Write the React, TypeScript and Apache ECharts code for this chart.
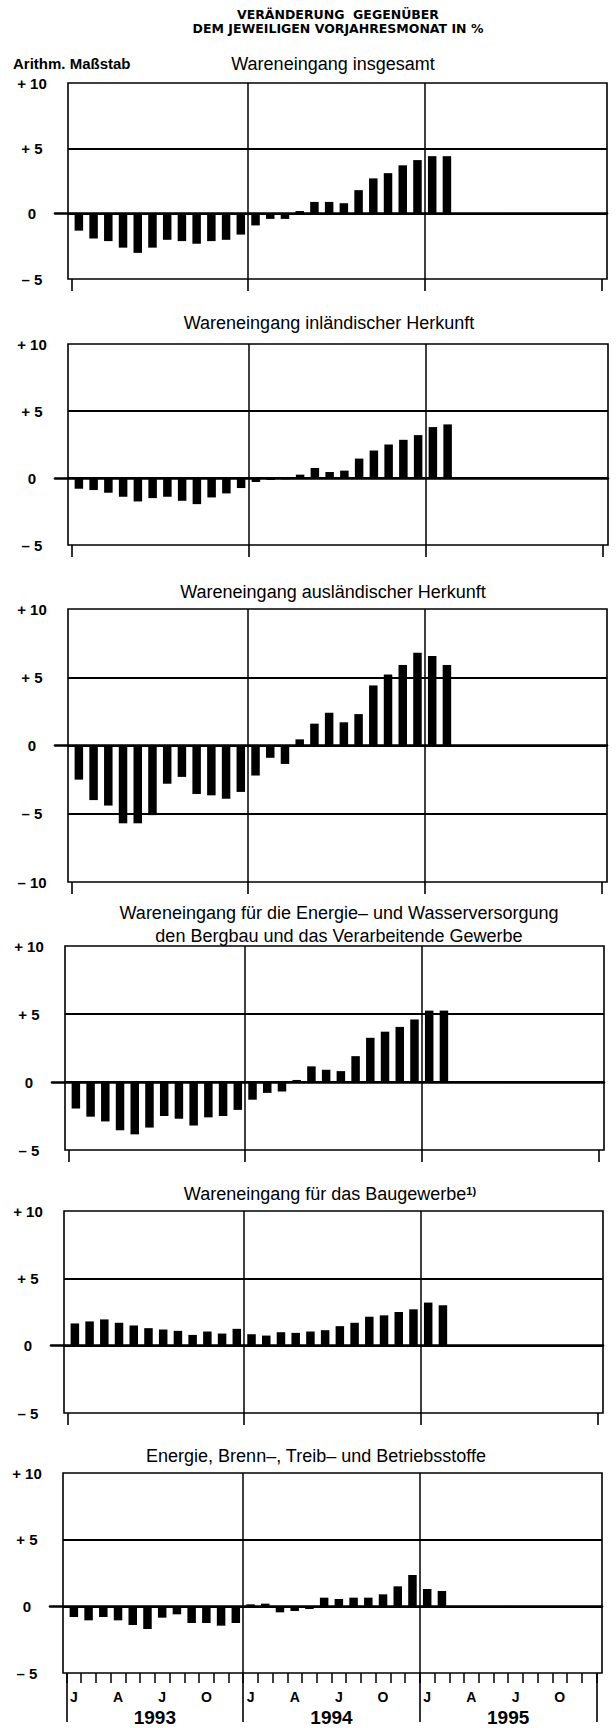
import { useEffect, useRef } from 'react';
import * as echarts from 'echarts';

// ---- data ----
const months = ['J', 'F', 'M', 'A', 'M', 'J', 'J', 'A', 'S', 'O', 'N', 'D',
  'J', 'F', 'M', 'A', 'M', 'J', 'J', 'A', 'S', 'O', 'N', 'D',
  'J', 'F', 'M', 'A', 'M', 'J', 'J', 'A', 'S', 'O', 'N', 'D'];
const years = ['1993', '1994', '1995'];

// Jan 1993 .. Feb 1995, change vs. same month of previous year, in %
const insgesamt = [-1.3, -1.9, -2.1, -2.6, -3.0, -2.6, -2.0, -2.1, -2.3, -2.1, -2.0, -1.6,
  -0.9, -0.4, -0.4, 0.2, 0.9, 0.9, 0.8, 1.8, 2.7, 3.1, 3.7, 4.1, 4.4, 4.4];
const inlaendisch = [-0.8, -0.9, -1.1, -1.4, -1.75, -1.5, -1.4, -1.7, -1.95, -1.45, -1.15, -0.75,
  -0.3, -0.15, -0.1, 0.25, 0.75, 0.45, 0.55, 1.45, 2.05, 2.5, 2.85, 3.2, 3.8, 4.0];
const auslaendisch = [-2.5, -4.0, -4.4, -5.7, -5.7, -5.1, -2.8, -2.3, -3.55, -3.65, -3.9, -3.4,
  -2.2, -0.9, -1.35, 0.45, 1.6, 2.4, 1.7, 2.3, 4.4, 5.2, 5.9, 6.8, 6.55, 5.9];
const energieWasser = [-1.95, -2.55, -2.9, -3.55, -3.85, -3.35, -2.5, -2.7, -3.2, -2.6, -2.5, -2.05,
  -1.3, -0.8, -0.7, 0.15, 1.15, 0.9, 0.8, 1.9, 3.25, 3.7, 4.05, 4.6, 5.25, 5.25];
const baugewerbe = [1.65, 1.8, 1.95, 1.7, 1.5, 1.3, 1.2, 1.1, 0.8, 1.05, 0.9, 1.25,
  0.85, 0.75, 1.0, 0.95, 1.05, 1.15, 1.45, 1.7, 2.15, 2.25, 2.5, 2.7, 3.2, 3.0];
const betriebsstoffe = [-0.8, -1.05, -0.8, -1.05, -1.4, -1.7, -0.85, -0.6, -1.25, -1.25, -1.45, -1.25,
  0.15, 0.2, -0.45, -0.35, -0.2, 0.65, 0.55, 0.65, 0.65, 0.9, 1.5, 2.35, 1.3, 1.15];

const panelSeries = [insgesamt, inlaendisch, auslaendisch, energieWasser, baugewerbe, betriebsstoffe];
const panelTitles = [
  ['Wareneingang insgesamt'],
  ['Wareneingang inländischer Herkunft'],
  ['Wareneingang ausländischer Herkunft'],
  ['Wareneingang für die Energie– und Wasserversorgung', 'den Bergbau und das Verarbeitende Gewerbe'],
  ['Wareneingang für das Baugewerbe{sup|1)}'],
  ['Energie, Brenn–, Treib– und Betriebsstoffe'],
];
const yMins = [-5, -5, -10, -5, -5, -5];
const yMax = 10;
const yStep = 5;
const mainTitle = ['VERÄNDERUNG  GEGENÜBER', 'DEM JEWEILIGEN VORJAHRESMONAT IN %'];
const scaleNote = 'Arithm. Maßstab';

// ---- layout ----
const FONT = '"Liberation Sans", Arial, Helvetica, sans-serif';
const HEAVY = '"DejaVu Sans", "Liberation Sans", sans-serif';
const frameLeft = [68, 68, 68, 65, 64, 63];
const frameRight = [607, 608, 607, 604, 603, 602];
const frameTop = [83, 344, 609, 946, 1211, 1473];
const frameBottom = [279, 545, 882, 1150, 1413, 1673];
const titleX = [333, 329, 333, 339, 330, 316];
const titleY = [[64], [323], [592], [913, 936], [1194], [1456]];

function yLabel(v: number) {
  if (v > 0) return '+ ' + v;
  if (v < 0) return '– ' + -v;
  return '0';
}

function text(x: number, y: number, t: string, font: string, align = 'center', rich?: any) {
  return {
    type: 'text',
    x,
    y,
    silent: true,
    style: {
      legacy: false,
      text: t,
      fill: '#000',
      font,
      align,
      verticalAlign: 'middle',
      textAlign: align,
      textVerticalAlign: 'middle',
      rich,
    },
  };
}

function buildOption() {
  const grid: any[] = [];
  const xAxis: any[] = [];
  const yAxis: any[] = [];
  const series: any[] = [];
  const graphic: any[] = [];

  graphic.push(text(338, 14.5, mainTitle[0], `bold 12.5px ${HEAVY}`));
  graphic.push(text(338, 28, mainTitle[1], `bold 12.5px ${HEAVY}`));
  graphic.push(text(13, 63, scaleNote, `bold 15px ${FONT}`, 'left'));

  panelSeries.forEach((values, k) => {
    const L = frameLeft[k];
    const R = frameRight[k];
    const T = frameTop[k];
    const B = frameBottom[k];
    const H = B - T;
    const last = k === panelSeries.length - 1;

    panelTitles[k].forEach((t, j) => {
      graphic.push(
        text(titleX[k], titleY[k][j], t, `normal 18px ${FONT}`, 'center', {
          sup: { fontSize: 11, fontWeight: 'bold', fontFamily: FONT, verticalAlign: 'top' },
        })
      );
    });

    // frame grid with horizontal grid lines and y labels
    const gF = grid.length;
    grid.push({ left: L, top: T, width: R - L, height: H, show: true, borderColor: '#000', borderWidth: 1.6, backgroundColor: 'transparent' });
    xAxis.push({ gridIndex: gF, type: 'value', min: 0, max: 1, show: false });
    yAxis.push({
      gridIndex: gF,
      type: 'value',
      min: yMins[k],
      max: yMax,
      interval: yStep,
      axisLine: { show: false },
      axisTick: { show: false },
      splitLine: { show: true, showMinLine: false, showMaxLine: false, lineStyle: { color: '#000', width: 2 } },
      axisLabel: {
        formatter: yLabel,
        color: '#000',
        fontSize: 15,
        fontWeight: 'bold',
        fontFamily: FONT,
        align: 'center',
        margin: 36,
      },
    });

    // zero line, reaching a bit left of the frame
    const gZ = grid.length;
    grid.push({ left: L - 13, top: T, width: R - L + 13, height: H });
    xAxis.push({
      gridIndex: gZ,
      type: 'value',
      min: 0,
      max: 1,
      axisLine: { show: true, onZero: true, lineStyle: { color: '#000', width: 2.6 } },
      axisTick: { show: false },
      axisLabel: { show: false },
      splitLine: { show: false },
    });
    yAxis.push({ gridIndex: gZ, type: 'value', min: yMins[k], max: yMax, show: false });

    // data grid: 36 months
    const gD = grid.length;
    grid.push({ left: L + 3.5, top: T, width: R - L - 9, height: H });
    const xv = xAxis.length;
    xAxis.push({
      gridIndex: gD,
      type: 'value',
      position: 'bottom',
      min: 0,
      max: 36,
      interval: 12,
      axisLine: { show: false, onZero: false },
      axisTick: { show: true, length: last ? 49 : 12, lineStyle: { color: '#000', width: 1.6 } },
      axisLabel: { show: false },
      splitLine: { show: true, showMinLine: false, showMaxLine: false, lineStyle: { color: '#000', width: 1.5 } },
    });
    const yv = yAxis.length;
    yAxis.push({ gridIndex: gD, type: 'value', min: yMins[k], max: yMax, show: false });
    series.push({
      type: 'bar',
      xAxisIndex: xv,
      yAxisIndex: yv,
      data: values.map((v, i) => [i + 0.5, v]),
      barWidth: 8.5,
      itemStyle: { color: '#000' },
      silent: true,
    });

    if (last) {
      xAxis.push({
        gridIndex: gD,
        type: 'category',
        position: 'bottom',
        data: months,
        boundaryGap: true,
        axisLine: { show: false, onZero: false },
        axisTick: { show: true, interval: 0, length: 10, alignWithLabel: false, lineStyle: { color: '#000', width: 1.5 } },
        axisLabel: {
          interval: (i: number) => i % 3 === 0,
          color: '#000',
          fontWeight: 'bold',
          fontSize: 14,
          fontFamily: FONT,
          margin: 17,
        },
        splitLine: { show: false },
      });
      xAxis.push({
        gridIndex: gD,
        type: 'category',
        position: 'bottom',
        data: years,
        axisLine: { show: false, onZero: false },
        axisTick: { show: false },
        axisLabel: { interval: 0, color: '#000', fontWeight: 'bold', fontSize: 19, fontFamily: FONT, margin: 35 },
        splitLine: { show: false },
      });
    }
  });

  return {
    animation: false,
    backgroundColor: '#fff',
    grid,
    xAxis,
    yAxis,
    series,
    graphic,
  };
}

export default function App() {
  const ref = useRef<HTMLDivElement>(null);
  useEffect(() => {
    const chart = echarts.init(ref.current!, null, { renderer: 'svg' });
    chart.setOption(buildOption() as any);
    return () => chart.dispose();
  }, []);
  return (
    <div
      ref={ref}
      style={{ position: 'absolute', left: 0, top: 0, width: 616, height: 1728, background: '#fff' }}
    />
  );
}
